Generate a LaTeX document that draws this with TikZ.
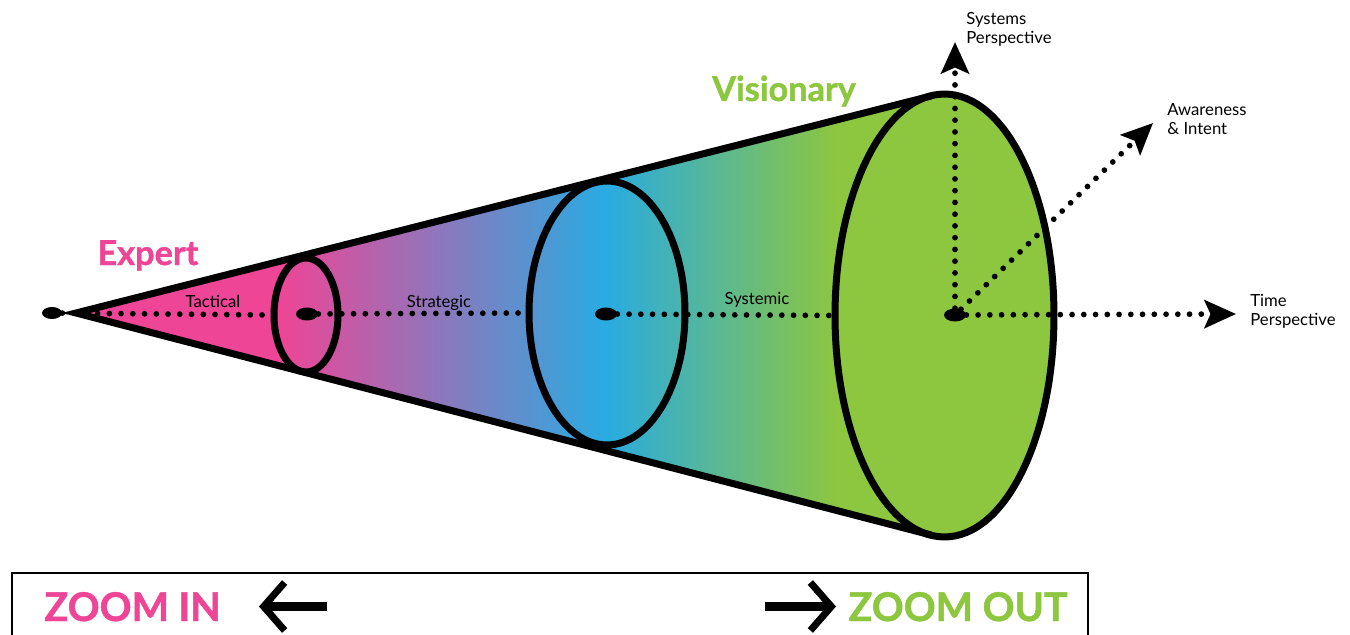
\documentclass[tikz,border=0pt]{standalone}
\usepackage{fontspec}
\setmainfont{Lato}
\newfontfamily\heavyfont[FakeBold=1.2]{Lato}
\usetikzlibrary{arrows.meta,shapes.geometric}
\definecolor{xpink}{HTML}{EE4596}
\definecolor{xblue}{HTML}{29ABE2}
\definecolor{xgreen}{HTML}{8DC63F}
\pgfdeclarehorizontalshading{conefade}{100bp}{color(0bp)=(xpink); color(37bp)=(xpink);
  color(56bp)=(xblue); color(69.5bp)=(xgreen); color(100bp)=(xgreen)}
\tikzset{
  ring/.style={draw, ellipse, line width=0.14cm, inner sep=0pt},
  hub/.style={fill, ellipse, inner sep=0pt, minimum width=0.44cm, minimum height=0.26cm},
  dotline/.style={line width=0.115cm, line cap=round, dash pattern=on 0pt off 0.235cm},
  axis/.style={dotline, -{Stealth[length=0.63cm, width=0.56cm, inset=0.12cm]}},
  lbl/.style={font=\fontsize{9.5}{10.8}\selectfont, inner sep=0pt},
  level/.style={font=\heavyfont\bfseries\fontsize{19.5}{22}\selectfont, inner sep=0pt, anchor=base},
  zoomtxt/.style={font=\heavyfont\bfseries\fontsize{22.5}{24}\selectfont, inner sep=0pt},
  zoomarrow/.style={line width=0.18cm, -{Straight Barb[length=0.42cm, width=0.96cm, line width=0.14cm]}}
}
\begin{document}
\begin{tikzpicture}[x=0.02cm, y=-0.02cm]
  \useasboundingbox (0,0) rectangle (1350,635);
  % cone body
  \shade[shading=conefade] (74,313) -- (931,96) -- (931,535) -- cycle;
  \foreach \n/\x/\y/\w/\h/\c in {1/306/315/1.28/2.28/none, 2/607/313/3.12/5.28/none, 3/944.5/315.5/4.38/8.86/xgreen} {
    \node[ring, fill=\c, minimum width=\w cm, minimum height=\h cm] (ring\n) at (\x,\y) {};
  }
  \draw[line width=0.14cm, line join=miter] (931,96) -- (76,313) -- (931,535);
  % centre points
  \node[hub, minimum width=0.4cm, minimum height=0.24cm] (hub0) at (52,313) {};
  \node[hub] (hub1) at (307,314) {};
  \node[hub] (hub2) at (606,314) {};
  \node[hub] (hub3) at (955,315) {};
  \foreach \a/\b in {0/1,1/2,2/3} \draw[dotline] (hub\a) -- (ring\b.west);
  % perspectives
  \coordinate (sysEnd) at (955,42);
  \coordinate (awEnd) at (1153,123);
  \coordinate (timeEnd) at (1236,314);
  \foreach \e in {sysEnd,awEnd,timeEnd} \draw[axis] (hub3) -- (\e);
  \node[lbl, anchor=north west, align=left] (sysLbl) at (966,12) {Systems\\Perspective};
  \node[lbl, anchor=north west, align=left] (awLbl) at (1167,103) {Awareness\\\& Intent};
  \node[lbl, anchor=north west, align=left] (timeLbl) at (1250,294) {Time\\Perspective};
  \node[lbl, anchor=base] (tactLbl) at (213,307) {Tactical};
  \node[lbl, anchor=base] (stratLbl) at (439,307) {Strategic};
  \node[lbl, anchor=base] (sysmLbl) at (757,304) {Systemic};
  \node[level, text=xpink] (expert) at (148,265) {Expert};
  \node[level, text=xgreen] (visionary) at (784,101) {Visionary};
  % zoom bar
  \draw[line width=0.04cm] (12,573) rectangle (1088,660);
  \node[zoomtxt, text=xpink, anchor=base west] (zoomIn) at (44,621) {ZOOM IN};
  \node[zoomtxt, text=xgreen, anchor=base east] (zoomOut) at (1068,621) {ZOOM OUT};
  \coordinate (inTail) at (327,606.5);
  \coordinate (inTip) at (259,606.5);
  \coordinate (outTail) at (765,606.5);
  \coordinate (outTip) at (836,606.5);
  \draw[zoomarrow] (inTail) -- (inTip);
  \draw[zoomarrow] (outTail) -- (outTip);
\end{tikzpicture}
\end{document}
